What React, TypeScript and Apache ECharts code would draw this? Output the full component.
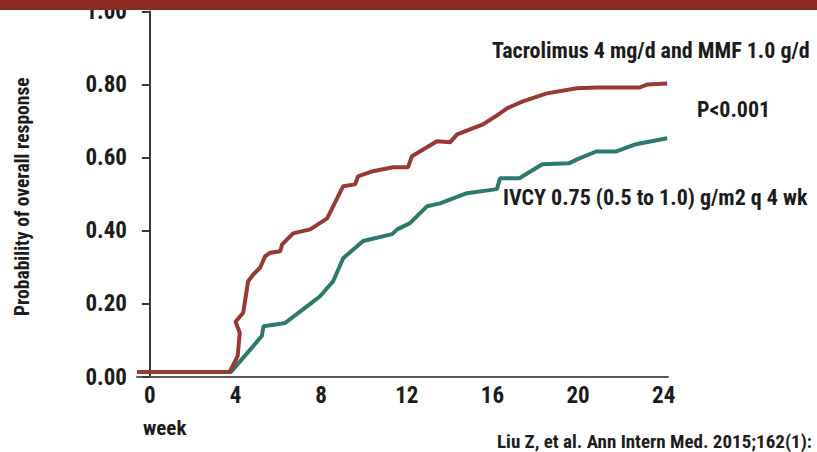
import React, { useEffect, useRef } from "react";
import * as echarts from "echarts";

const weekTicks = [0, 4, 8, 12, 16, 20, 24];
const tacWeeks = [-0.6, 3.73, 4.1, 4.2, 4.0, 4.36, 4.59, 4.84, 5.15, 5.38, 5.62, 6.09, 6.18, 6.69, 7.49, 8.28, 9.03, 9.59, 9.72, 10.42, 11.36, 12.06, 12.24, 13.41, 14.02, 14.35, 15.56, 16.35, 16.68, 17.42, 18.54, 19.94, 20.87, 22.88, 23.21, 24.16];
const tacValues = [0.014, 0.014, 0.057, 0.121, 0.151, 0.176, 0.262, 0.281, 0.299, 0.33, 0.34, 0.344, 0.363, 0.393, 0.404, 0.434, 0.522, 0.527, 0.549, 0.563, 0.574, 0.574, 0.604, 0.645, 0.642, 0.664, 0.691, 0.721, 0.735, 0.754, 0.776, 0.79, 0.792, 0.792, 0.8, 0.803];
const ivcyWeeks = [-0.6, 3.79, 5.23, 5.31, 6.32, 6.86, 7.49, 7.95, 8.56, 9.03, 9.96, 11.32, 11.55, 12.15, 12.94, 13.55, 14.81, 16.21, 16.35, 17.26, 18.33, 19.59, 20.06, 20.85, 21.78, 22.71, 24.16];
const ivcyValues = [0.014, 0.014, 0.112, 0.139, 0.148, 0.172, 0.2, 0.221, 0.262, 0.325, 0.372, 0.391, 0.404, 0.421, 0.467, 0.475, 0.503, 0.514, 0.544, 0.544, 0.582, 0.585, 0.598, 0.617, 0.617, 0.637, 0.653];

const FONT = "'Roboto Condensed', 'Open Sans Condensed', sans-serif";
const RED = "#983a33";
const GREEN = "#2c7a6c";
const INK = "#1c1c1c";

export default function App() {
  const ref = useRef<HTMLDivElement>(null);
  useEffect(() => {
    if (!ref.current) return;
    const chart = echarts.init(ref.current, undefined, { renderer: "svg" });
    const txt = (text: string, x: number, y: number, fontSize: number) => ({
      type: "text",
      x,
      y,
      style: { text, fontFamily: FONT, fontWeight: "bold", fontSize, fill: INK, verticalAlign: "middle" },
    });
    chart.setOption({
      animation: false,
      backgroundColor: "#ffffff",
      grid: { left: 137, top: 10, right: 149, bottom: 75, containLabel: false },
      xAxis: {
        type: "value",
        min: -0.6,
        max: 24.2,
        splitLine: { show: false },
        axisLine: { show: true, onZero: false, lineStyle: { color: "#5a5a5a", width: 2 } },
        axisTick: { show: false },
        axisLabel: {
          customValues: weekTicks,
          margin: 7,
          fontFamily: FONT,
          fontWeight: "bold",
          fontSize: 23,
          color: INK,
        },
      },
      yAxis: {
        type: "value",
        min: 0,
        max: 1,
        interval: 0.2,
        name: "Probability of overall response",
        nameLocation: "middle",
        nameRotate: 90,
        nameGap: 105,
        nameTextStyle: { fontFamily: FONT, fontWeight: "bold", fontSize: 19.5, color: INK, padding: [0, 5, 0, 0] },
        splitLine: { show: false },
        axisLine: { show: true, lineStyle: { color: "#3a3a3a", width: 2 } },
        axisTick: { show: true, length: 8, inside: false, lineStyle: { color: "#3a3a3a", width: 2 } },
        axisLabel: {
          margin: 10,
          formatter: (v: number) => v.toFixed(2),
          fontFamily: FONT,
          fontWeight: "bold",
          fontSize: 23,
          color: INK,
        },
      },
      series: [
        {
          name: "Tacrolimus 4 mg/d and MMF 1.0 g/d",
          type: "line",
          showSymbol: false,
          data: tacWeeks.map((w, i) => [w, tacValues[i]]),
          lineStyle: { color: RED, width: 4 },
          itemStyle: { color: RED },
          z: 3,
        },
        {
          name: "IVCY 0.75 (0.5 to 1.0) g/m2 q 4 wk",
          type: "line",
          showSymbol: false,
          data: ivcyWeeks.map((w, i) => [w, ivcyValues[i]]),
          lineStyle: { color: GREEN, width: 4 },
          itemStyle: { color: GREEN },
          z: 2,
        },
      ],
      graphic: [
        { type: "rect", z: 100, shape: { x: 0, y: 0, width: 817, height: 10 }, style: { fill: "#8c2c25" } },
        txt("Tacrolimus 4 mg/d and MMF 1.0 g/d", 492, 50, 22),
        txt("P<0.001", 697, 109, 22),
        txt("IVCY 0.75 (0.5 to 1.0) g/m2 q 4 wk", 503, 197, 22),
        txt("week", 143, 428, 21),
        txt("Liu Z, et al. Ann Intern Med. 2015;162(1):", 497, 441, 19),
      ],
    });
    return () => chart.dispose();
  }, []);
  return <div ref={ref} style={{ position: "fixed", left: 0, top: 0, width: 817, height: 452 }} />;
}
